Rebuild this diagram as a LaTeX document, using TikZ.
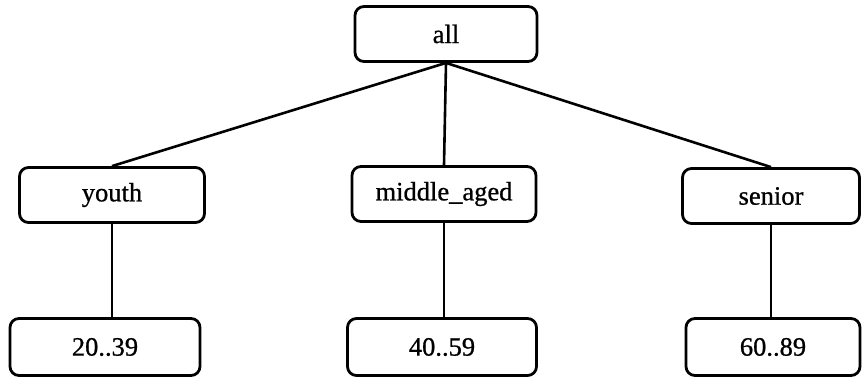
\documentclass[tikz,border=0pt]{standalone}
\usepackage{fontspec}
\setmainfont{Liberation Serif}
\newfontfamily\heavyfont[FakeBold=0.8]{Liberation Serif}
\begin{document}
\begin{tikzpicture}[x=1pt,y=-1pt,
  box/.style={draw=black, line width=2.8pt, rounded corners=9pt, fill=white,
    inner sep=0pt, font=\heavyfont\fontsize{26.5}{30}\selectfont},
  link/.style={draw=black, line width=2.6pt}]
\useasboundingbox (0,0) rectangle (864,381);
\node[box, minimum width=182pt, minimum height=55pt] (all) at (446,34) {all};
\node[box, minimum width=185pt, minimum height=55pt] (youth) at (112,195) {youth};
\node[box, minimum width=184pt, minimum height=55pt] (mid) at (444,194) {middle\_aged};
\node[box, minimum width=177pt, minimum height=55pt] (sen) at (771,196) {senior};
\node[box, minimum width=190pt, minimum height=57pt] (l1) at (105,347) {20..39};
\node[box, minimum width=189pt, minimum height=57pt] (l2) at (442,347) {40..59};
\node[box, minimum width=174pt, minimum height=57pt] (l3) at (773,347) {60..89};
\draw[link] (all.south) -- (youth.north);
\draw[link] (all.south) -- (mid.north);
\draw[link] (all.south) -- (sen.north);
\draw[link] (youth.south) -- (l1.north -| youth.south);
\draw[link] (mid.south) -- (l2.north -| mid.south);
\draw[link] (sen.south) -- (l3.north -| sen.south);
\end{tikzpicture}
\end{document}
